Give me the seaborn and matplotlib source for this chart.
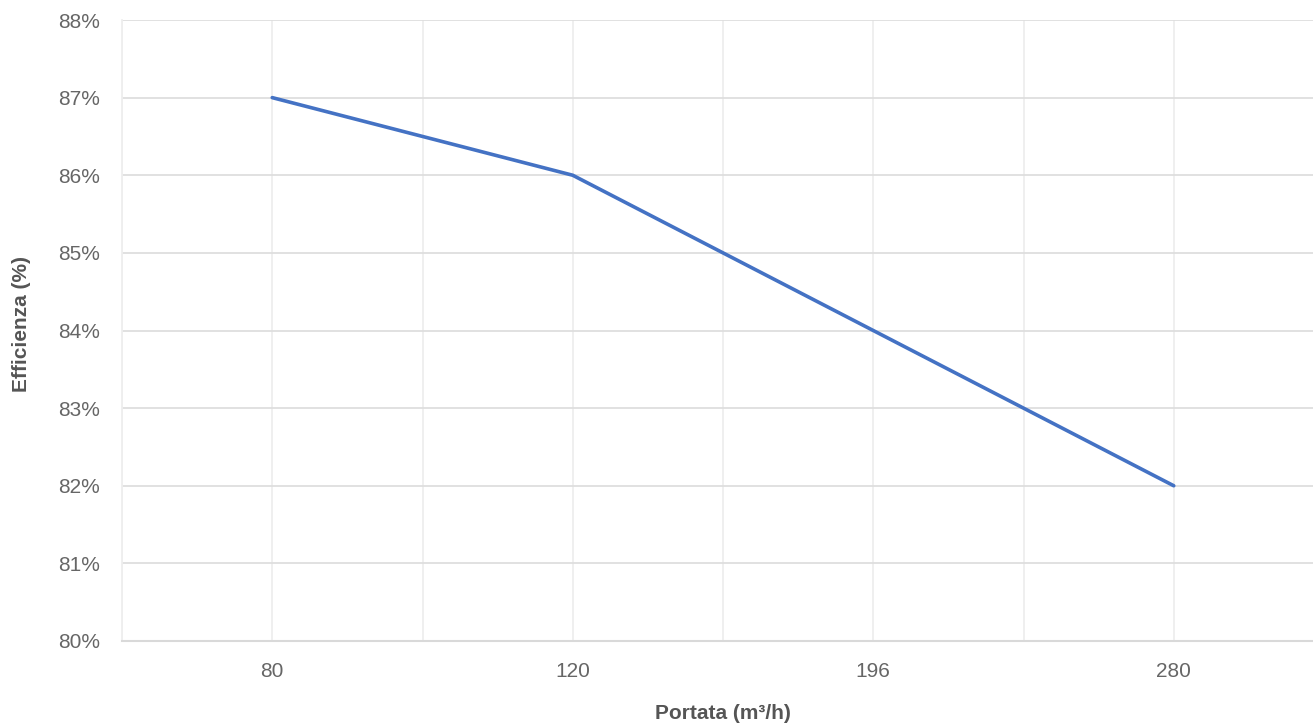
import matplotlib
matplotlib.use("Agg")
import matplotlib.pyplot as plt
import seaborn as sns
import pandas as pd
from matplotlib.ticker import FuncFormatter, MultipleLocator

# --- Datos ---
portata = ["80", "120", "196", "280"]
efficienza = [87, 86, 84, 82]

df = pd.DataFrame({"pos": range(len(portata)), "eff": efficienza})

sns.set_style("white")
plt.rcParams["font.family"] = ["Liberation Sans", "DejaVu Sans"]

fig = plt.figure(figsize=(13.13, 7.25), dpi=100)
ax = fig.add_axes([122 / 1313, 84 / 725, 1202 / 1313, 621 / 725])

sns.lineplot(data=df, x="pos", y="eff", color="#4472C4", linewidth=2.6, ax=ax)

ax.set_xlim(-0.5, 3.5)
ax.set_ylim(80, 88)
ax.set_xticks(range(len(portata)))
ax.set_xticklabels(portata)
ax.xaxis.set_minor_locator(MultipleLocator(0.5))
ax.yaxis.set_major_locator(MultipleLocator(1))
ax.yaxis.set_major_formatter(FuncFormatter(lambda v, p: f"{v:.0f}%"))

ax.grid(True, axis="y", color="#dedede", linewidth=1.3)
ax.grid(True, axis="x", which="both", color="#eeeeee", linewidth=1.3)
ax.set_axisbelow(True)

for s in ["top", "right"]:
    ax.spines[s].set_visible(False)
ax.spines["left"].set_color("#eeeeee")
ax.spines["left"].set_linewidth(1.3)
ax.spines["bottom"].set_color("#d9d9d9")
ax.spines["bottom"].set_linewidth(1.5)

ax.tick_params(axis="both", which="both", length=0, labelsize=15, labelcolor="#666666")
ax.tick_params(axis="y", pad=16)
ax.tick_params(axis="x", pad=15)

ax.set_xlabel("Portata (m³/h)", fontsize=15, fontweight="bold", color="#555555", labelpad=17)
ax.set_ylabel("Efficienza (%)", fontsize=15, fontweight="bold", color="#555555", labelpad=19)
ax.yaxis.label.set_y(0.51)

fig.savefig("out.png", dpi=100)
